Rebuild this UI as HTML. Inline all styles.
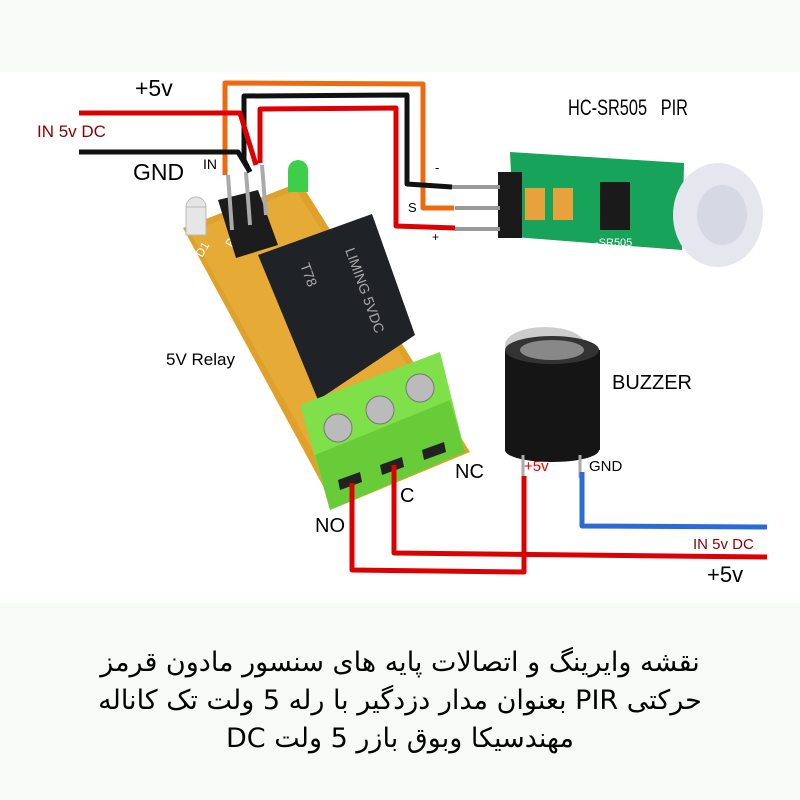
<!DOCTYPE html>
<html><head><meta charset="utf-8"><style>
html,body{margin:0;padding:0;background:#fff;width:800px;height:800px;overflow:hidden}
svg{display:block}
.t{font-family:"Liberation Sans","DejaVu Sans",sans-serif}
.n{font-family:"Liberation Sans Narrow","Liberation Sans",sans-serif}
.ar{position:absolute;left:0;top:644px;width:800px;text-align:center;direction:rtl;font-family:"DejaVu Sans",sans-serif;font-size:27px;line-height:38px;color:#000;white-space:nowrap}
</style></head><body>
<svg width="800" height="800" viewBox="0 0 800 800">
<rect x="0" y="0" width="800" height="72" fill="#f8faf8"/>
<rect x="0" y="603" width="800" height="197" fill="#f8faf8"/>

<polygon points="183,228 300,182 470,452 335,508" fill="#e0a12a"/>
<polygon points="190,232 296,190 460,448 340,500" fill="#eab040" opacity=".6"/>
<text x="202" y="258" class="t" font-size="12" fill="#fff" transform="rotate(-60 202 258)">D1</text>
<text x="232" y="248" class="t" font-size="12" fill="#fff" transform="rotate(-60 232 248)">P1</text>
<polygon points="258,255 372,214 415,335 318,400" fill="#1f2226"/>
<text x="300" y="265" class="t" font-size="14" fill="#aaa" transform="rotate(70 300 265)">T78</text>
<text x="345" y="250" class="t" font-size="14" fill="#aaa" transform="rotate(70 345 250)">LIMING 5VDC</text>
<circle cx="298" cy="170" r="10" fill="#3ecf4a"/>
<rect x="288" y="170" width="20" height="22" fill="#3ecf4a"/>
<circle cx="196" cy="207" r="10" fill="#e6e6e6" stroke="#bbb"/>
<rect x="186" y="207" width="20" height="28" fill="#e6e6e6" stroke="#bbb"/>
<polygon points="218,200 258,190 278,245 236,258" fill="#1c1c1c"/>
<line x1="228" y1="175" x2="232" y2="230" stroke="#aaa" stroke-width="4"/>
<line x1="246" y1="172" x2="250" y2="225" stroke="#aaa" stroke-width="4"/>
<line x1="262" y1="165" x2="266" y2="215" stroke="#aaa" stroke-width="4"/>
<polygon points="300,405 440,352 465,452 330,510" fill="#7fe04a"/>
<polygon points="315,455 450,400 465,452 330,510" fill="#68cc38"/>
<circle cx="338" cy="428" r="14" fill="#bbb" stroke="#777"/>
<circle cx="380" cy="410" r="14" fill="#bbb" stroke="#777"/>
<circle cx="420" cy="388" r="14" fill="#bbb" stroke="#777"/>
<polygon points="338,480 360,472 362,482 340,490" fill="#222"/>
<polygon points="380,465 402,457 404,467 382,475" fill="#222"/>
<polygon points="422,450 444,442 446,452 424,460" fill="#222"/>

<polygon points="510,152 684,163 682,250 514,237" fill="#17a35a"/>
<rect x="498" y="172" width="24" height="66" fill="#1a1a1a"/>
<line x1="452" y1="187" x2="500" y2="187" stroke="#999" stroke-width="4"/>
<line x1="455" y1="208" x2="500" y2="208" stroke="#999" stroke-width="4"/>
<line x1="455" y1="229" x2="500" y2="229" stroke="#999" stroke-width="4"/>
<rect x="525" y="188" width="20" height="32" fill="#e8a23c"/>
<rect x="553" y="188" width="20" height="32" fill="#e8a23c"/>
<rect x="600" y="182" width="30" height="48" fill="#1a1a1a"/>
<ellipse cx="718" cy="215" rx="45" ry="52" fill="#e6e7ee"/>
<ellipse cx="722" cy="215" rx="25" ry="30" fill="#d6d8e4"/>
<text x="595" y="246" class="t" font-size="11" fill="#fff">-SR505</text>

<ellipse cx="545" cy="345" rx="40" ry="18" fill="#ccc"/>
<rect x="505" y="350" width="95" height="100" fill="#151515"/>
<ellipse cx="552" cy="450" rx="47" ry="12" fill="#151515"/>
<ellipse cx="552" cy="350" rx="47" ry="14" fill="#333"/>
<ellipse cx="552" cy="350" rx="32" ry="10" fill="#888"/>
<line x1="523" y1="455" x2="523" y2="478" stroke="#aaa" stroke-width="3"/>
<line x1="580" y1="455" x2="580" y2="478" stroke="#aaa" stroke-width="3"/>

<g fill="none" stroke-width="5" stroke-linejoin="round">
<polyline points="225,175 225,83 423,84 423,208 454,208" stroke="#ee6a10"/>
<polyline points="250,172 244,160 244,96 407,95 407,184 452,187" stroke="#111"/>
<polyline points="260,163 260,109 396,108 396,226 455,228" stroke="#d00"/>
<polyline points="79,113 240,113 256,165" stroke="#d00"/>
<polyline points="79,152 238,152 250,172" stroke="#111"/>
<polyline points="352,483 352,570 524,572 524,476" stroke="#d00"/>
<polyline points="394,465 394,553 767,557" stroke="#d00"/>
<polyline points="582,472 582,526 767,527" stroke="#2a6cd6"/>
</g>

<text x="135" y="96" class="n" font-size="23">+5v</text>
<text x="37" y="137" class="n" font-size="17" fill="#8b0000">IN 5v DC</text>
<text x="133" y="180" class="n" font-size="23">GND</text>
<text x="203" y="169" class="n" font-size="14">IN</text>
<text x="568" y="115" class="n" font-size="22" textLength="120" lengthAdjust="spacingAndGlyphs">HC-SR505&#160;&#160;&#160;PIR</text>
<text x="435" y="172" class="t" font-size="13">-</text>
<text x="408" y="212" class="t" font-size="13">S</text>
<text x="432" y="241" class="t" font-size="12">+</text>
<text x="166" y="365" class="n" font-size="17">5V Relay</text>
<text x="612" y="389" class="n" font-size="20">BUZZER</text>
<text x="455" y="478" class="n" font-size="20">NC</text>
<text x="400" y="502" class="n" font-size="20">C</text>
<text x="315" y="532" class="n" font-size="20">NO</text>
<text x="524" y="471" class="n" font-size="15" fill="#e00">+5v</text>
<text x="589" y="471" class="n" font-size="15">GND</text>
<text x="693" y="549" class="n" font-size="15" fill="#8b0000">IN 5v DC</text>
<text x="707" y="582" class="n" font-size="22">+5v</text>
</svg>
<div class="ar">نقشه وایرینگ و اتصالات پایه های سنسور مادون قرمز<br>حرکتی PIR بعنوان مدار دزدگیر با رله 5 ولت تک کاناله<br>مهندسیکا وبوق بازر 5 ولت DC</div>
</body></html>
